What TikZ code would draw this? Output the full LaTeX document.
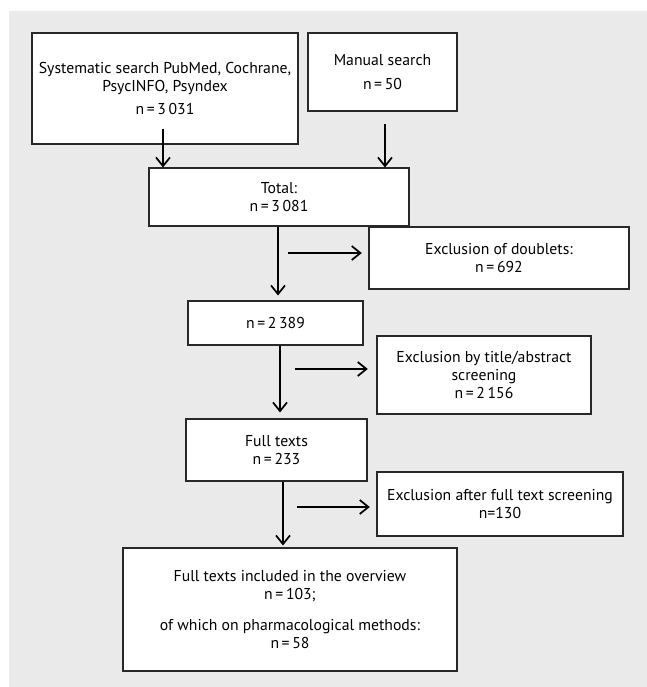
\documentclass[tikz,border=0pt]{standalone}
\usepackage{fontspec}
\setmainfont{PT Sans}
\usetikzlibrary{arrows.meta}
\definecolor{bggray}{RGB}{234,234,234}
\definecolor{boxline}{RGB}{40,40,40}
\tikzset{
  flowbox/.style={draw=boxline, line width=0.8pt, fill=white, inner sep=0pt, align=center,
    font=\fontsize{11.8}{13.5}\selectfont},
  arr/.style={draw=black, line width=1.5pt, -{Straight Barb[length=6.5pt,width=10.5pt,line width=1.3pt]}},
}
\begin{document}
\begin{tikzpicture}[x=0.75pt,y=-0.75pt]
\useasboundingbox (0,0) rectangle (647,687);
\fill[bggray] (9,11) rectangle (647,687);

\node[flowbox, minimum width=199.5pt, minimum height=83.25pt] (sys) at (165,88.5)
  {Systematic search PubMed, Cochrane,\\PsycINFO, Psyndex\\[3.5pt]n\,=\,3\,031};
\node[flowbox, minimum width=111.75pt, minimum height=58.5pt] (man) at (382.5,72)
  {Manual search\\[4.5pt]n\,=\,50};
\node[flowbox, minimum width=195pt, minimum height=43.5pt] (tot) at (279,197)
  {Total:\\n\,=\,3\,081};
\node[flowbox, minimum width=195pt, minimum height=46.5pt] (dbl) at (499,258)
  {Exclusion of doublets:\\n\,=\,692};
\node[flowbox, minimum width=131.25pt, minimum height=33pt] (n2) at (275.5,323)
  {n\,=\,2\,389};
\node[flowbox, minimum width=160.5pt, minimum height=58.5pt] (ttl) at (484,375)
  {Exclusion by title/abstract\\screening\\n\,=\,2\,156};
\node[flowbox, minimum width=135.75pt, minimum height=46.5pt] (ft) at (276.5,450)
  {Full texts\\n\,=\,233};
\node[flowbox, minimum width=184.5pt, minimum height=48pt] (exf) at (500,504)
  {Exclusion after full text screening\\n=130};
\node[flowbox, minimum width=250.5pt, minimum height=92.25pt] (fin) at (290,609.5)
  {Full texts included in the overview\\n\,=\,103;\\[10pt]of which on pharmacological methods:\\n\,=\,58};

% vertical arrows
\coordinate (a1s) at (163,129);
\draw[arr] (a1s) -- (a1s |- tot.north);
\coordinate (a2s) at (385,124);
\draw[arr] (a2s) -- (a2s |- tot.north);
\coordinate (a3x) at (278,0);
\draw[arr, shorten >=3.75pt] (a3x |- tot.south) -- (a3x |- n2.north);
\coordinate (a4x) at (280,0);
\draw[arr, shorten >=4.5pt] (a4x |- n2.south) -- (a4x |- ft.north);
\coordinate (a5x) at (283,0);
\draw[arr, shorten >=1.5pt] (a5x |- ft.south) -- (a5x |- fin.north);

% horizontal arrows
\coordinate (h1s) at (288,253);
\draw[arr, shorten >=5pt] (h1s) -- (h1s -| dbl.west);
\coordinate (h2s) at (295,369);
\draw[arr, shorten >=6.5pt] (h2s) -- (h2s -| ttl.west);
\coordinate (h3s) at (297,507);
\draw[arr, shorten >=5pt] (h3s) -- (h3s -| exf.west);
\end{tikzpicture}
\end{document}
